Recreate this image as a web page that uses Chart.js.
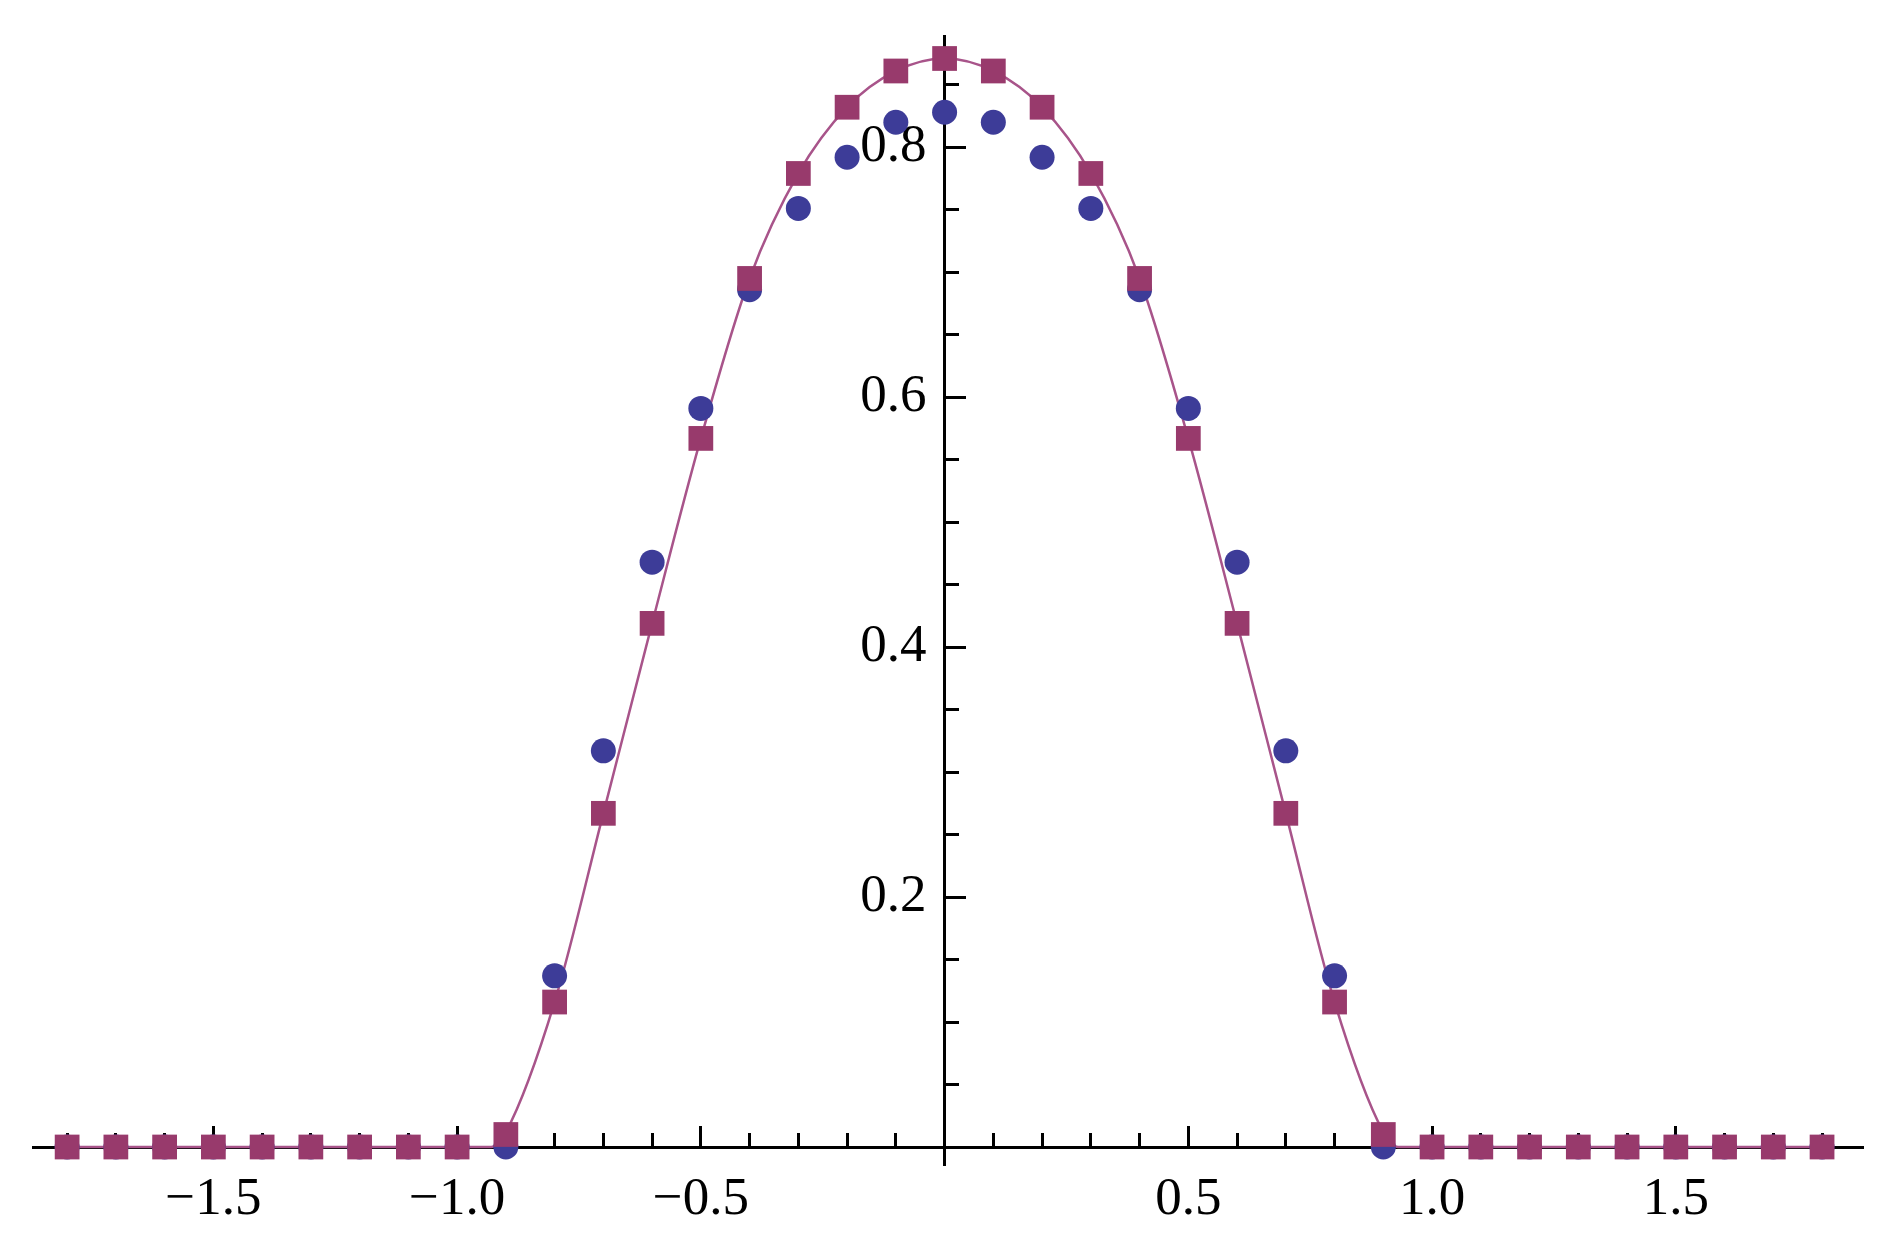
<!DOCTYPE html>
<html>
<head>
<meta charset="utf-8">
<script src="https://cdn.jsdelivr.net/npm/chart.js@4/dist/chart.umd.min.js"></script>
<style>
  body { margin: 0; background: #fff; }
  canvas { display: block; }
</style>
</head>
<body>
<canvas id="plot" width="1897" height="1240"></canvas>
<script>
// sample positions (same for both point sets)
const xValues = [
  -1.8, -1.7, -1.6, -1.5, -1.4, -1.3, -1.2, -1.1, -1.0,
  -0.9, -0.8, -0.7, -0.6, -0.5, -0.4, -0.3, -0.2, -0.1,
  0,
  0.1, 0.2, 0.3, 0.4, 0.5, 0.6, 0.7, 0.8, 0.9,
  1.0, 1.1, 1.2, 1.3, 1.4, 1.5, 1.6, 1.7, 1.8,
];

// blue circles
const circleValues = [
  0, 0, 0, 0, 0, 0, 0, 0, 0,
  0, 0.137, 0.317, 0.468, 0.591, 0.686, 0.751, 0.792, 0.82,
  0.828,
  0.82, 0.792, 0.751, 0.686, 0.591, 0.468, 0.317, 0.137, 0,
  0, 0, 0, 0, 0, 0, 0, 0, 0,
];

// purple squares
const squareValues = [
  0, 0, 0, 0, 0, 0, 0, 0, 0,
  0.01, 0.116, 0.267, 0.419, 0.567, 0.695, 0.779, 0.832, 0.861,
  0.871,
  0.861, 0.832, 0.779, 0.695, 0.567, 0.419, 0.267, 0.116, 0.01,
  0, 0, 0, 0, 0, 0, 0, 0, 0,
];

// purple curve (hits zero near +-0.93)
const curveX = [
  -1.8, -1.0, -0.93, -0.9, -0.8, -0.7, -0.6, -0.5, -0.4, -0.3, -0.2, -0.1,
  0,
  0.1, 0.2, 0.3, 0.4, 0.5, 0.6, 0.7, 0.8, 0.9, 0.93, 1.0, 1.8,
];
const curveY = [
  0, 0, 0, 0.012, 0.116, 0.267, 0.419, 0.567, 0.695, 0.779, 0.832, 0.861,
  0.871,
  0.861, 0.832, 0.779, 0.695, 0.567, 0.419, 0.267, 0.116, 0.012, 0, 0, 0,
];

const xMajorTicks = [-1.5, -1.0, -0.5, 0.5, 1.0, 1.5];
const xMinorTicks = [
  -1.8, -1.7, -1.6, -1.4, -1.3, -1.2, -1.1, -0.9, -0.8, -0.7, -0.6,
  -0.4, -0.3, -0.2, -0.1, 0.1, 0.2, 0.3, 0.4, 0.6, 0.7, 0.8, 0.9,
  1.1, 1.2, 1.3, 1.4, 1.6, 1.7, 1.8,
];
const yMajorTicks = [0.2, 0.4, 0.6, 0.8];
const yMinorTicks = [0.05, 0.1, 0.15, 0.25, 0.3, 0.35, 0.45, 0.5, 0.55, 0.65, 0.7, 0.75, 0.85];

const X_MIN = -1.87, X_MAX = 1.884;
const Y_MIN = -0.0144, Y_MAX = 0.889;

const labelFont = { family: "'Liberation Serif', 'DejaVu Serif', serif", size: 53 };

function toPoints(xs, ys) {
  return xs.map((x, i) => ({ x: x, y: ys[i] }));
}

function fixedTicks(values) {
  return (scale) => {
    scale.ticks = values.map((v) => ({ value: v }));
  };
}

function fmt(v) {
  const s = Math.abs(v).toFixed(1);
  return v < 0 ? "\u2212" + s : s;
}

// tick-mark only axis, ticks point into the plot (negative length)
function tickAxis(axis, pos, values, len, showBorder) {
  return {
    type: "linear",
    axis: axis,
    position: pos,
    min: axis === "x" ? X_MIN : Y_MIN,
    max: axis === "x" ? X_MAX : Y_MAX,
    afterBuildTicks: fixedTicks(values),
    ticks: { display: false },
    grid: {
      drawOnChartArea: false,
      drawTicks: true,
      tickLength: -len,
      tickWidth: 3,
      tickColor: "#000",
    },
    border: { display: showBorder, color: "#000", width: 3 },
  };
}

const ctx = document.getElementById("plot").getContext("2d");

new Chart(ctx, {
  type: "scatter",
  data: {
    datasets: [
      {
        label: "squares",
        data: toPoints(xValues, squareValues),
        pointStyle: "rect",
        pointRadius: 17.5,
        pointBackgroundColor: "#983a6c",
        pointBorderWidth: 0,
        showLine: false,
        order: 0,
        clip: false,
      },
      {
        label: "circles",
        data: toPoints(xValues, circleValues),
        pointStyle: "circle",
        pointRadius: 12.5,
        pointBackgroundColor: "#3d3c98",
        pointBorderWidth: 0,
        showLine: false,
        order: 1,
        clip: false,
      },
      {
        label: "curve",
        data: toPoints(curveX, curveY),
        showLine: true,
        borderColor: "#a8548a",
        borderWidth: 2.5,
        pointRadius: 0,
        cubicInterpolationMode: "monotone",
        order: 2,
        clip: false,
      },
    ],
  },
  options: {
    responsive: false,
    animation: false,
    layout: { padding: { left: 33, right: 34, top: 36, bottom: 75 } },
    plugins: {
      legend: { display: false },
      tooltip: { enabled: false },
    },
    scales: {
      x: tickAxis("x", { y: 0 }, xMajorTicks, 23, true),
      xMinor: tickAxis("x", { y: 0 }, xMinorTicks, 14, false),
      y: tickAxis("y", { x: 0 }, yMajorTicks, 23, true),
      yMinor: tickAxis("y", { x: 0 }, yMinorTicks, 14, false),
      xLabels: {
        type: "linear",
        axis: "x",
        position: { y: 0 },
        min: X_MIN,
        max: X_MAX,
        afterBuildTicks: fixedTicks(xMajorTicks),
        grid: { display: false },
        border: { display: false },
        ticks: {
          autoSkip: false,
          maxRotation: 0,
          padding: 13,
          color: "#000",
          font: labelFont,
          callback: (v) => fmt(v),
        },
      },
      yLabels: {
        type: "linear",
        axis: "y",
        position: { x: -0.037 },
        min: Y_MIN,
        max: Y_MAX,
        afterBuildTicks: fixedTicks(yMajorTicks),
        grid: { display: false },
        border: { display: false },
        ticks: {
          autoSkip: false,
          color: "#000",
          font: labelFont,
          callback: (v) => fmt(v),
        },
      },
    },
  },
});
</script>
</body>
</html>
